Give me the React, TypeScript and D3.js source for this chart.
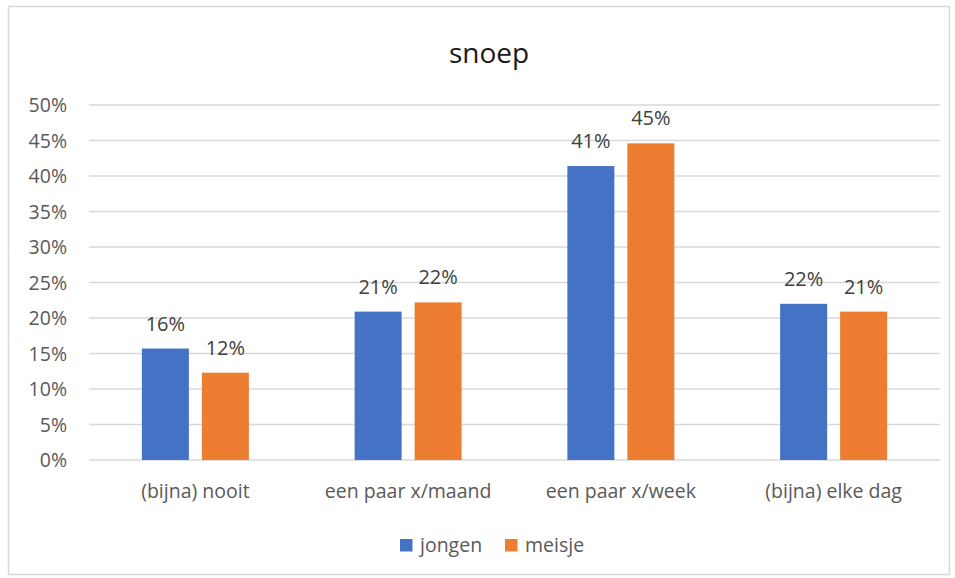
import React from "react";
import * as d3 from "d3";

const categories = ["(bijna) nooit", "een paar x/maand", "een paar x/week", "(bijna) elke dag"];
const jongen = [15.7, 20.9, 41.4, 22.0];
const meisje = [12.3, 22.2, 44.6, 20.9];
const seriesNames = ["jongen", "meisje"];
const colors = ["#4472C4", "#ED7D31"];
const yTicks = [0, 5, 10, 15, 20, 25, 30, 35, 40, 45, 50];

const W = 955, H = 578;
const font = "'Open Sans', 'Noto Sans', sans-serif";

export default function App() {
  const x = d3.scaleBand().domain(categories).range([89, 940]);
  const y = d3.scaleLinear().domain([0, 50]).range([460, 105]);
  const barW = 47;
  const gap = 13;
  const series = [jongen, meisje];
  return (
    <svg width={W} height={H} style={{ position: "absolute", left: 0, top: 0 }}>
      <rect x={0} y={0} width={W} height={H} fill="#fff" />
      <rect x={8.5} y={6.5} width={941} height={568} fill="#fff" stroke="#d9d9d9" strokeWidth={1.5} />
      <text x={489} y={63} textAnchor="middle" fontFamily={font} fontSize={28} fill="#1a1a1a">snoep</text>
      {yTicks.map((t) => (
        <g key={t}>
          <line x1={89} x2={940} y1={y(t)} y2={y(t)} stroke="#d9d9d9" strokeWidth={1.5} />
          <text x={67} y={y(t) + 7} textAnchor="end" fontFamily={font} fontSize={19.5} fill="#595959">{t}%</text>
        </g>
      ))}
      {categories.map((c, i) => {
        const cx = (x(c) as number) + x.bandwidth() / 2;
        return (
          <g key={c}>
            {series.map((s, k) => {
              const bx = k === 0 ? cx - gap / 2 - barW : cx + gap / 2;
              return (
                <g key={k}>
                  <rect x={bx} y={y(s[i])} width={barW} height={y(0) - y(s[i])} fill={colors[k]} />
                  <text x={bx + barW / 2} y={y(s[i]) - 18} textAnchor="middle" fontFamily={font} fontSize={20} fill="#404040">
                    {Math.round(s[i])}%
                  </text>
                </g>
              );
            })}
            <text x={cx} y={498} textAnchor="middle" fontFamily={font} fontSize={19.5} fill="#595959">{c}</text>
          </g>
        );
      })}
      {seriesNames.map((n, k) => {
        const lx = k === 0 ? 400 : 505;
        return (
          <g key={n}>
            <rect x={lx} y={539} width={12.5} height={12.5} fill={colors[k]} />
            <text x={lx + 20} y={551.5} fontFamily={font} fontSize={19.5} fill="#595959">{n}</text>
          </g>
        );
      })}
    </svg>
  );
}
